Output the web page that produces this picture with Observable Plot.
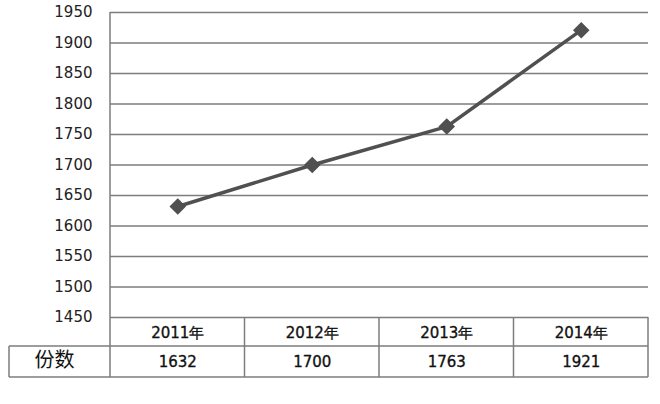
<!DOCTYPE html>
<html>
<head>
<meta charset="utf-8">
<script src="https://cdn.jsdelivr.net/npm/d3@7"></script>
<script src="https://cdn.jsdelivr.net/npm/@observablehq/plot@0.6"></script>
<style>
  html, body { margin: 0; padding: 0; background: #fff; }
</style>
</head>
<body>
<div id="chart"></div>
<script>
const years = [2011, 2012, 2013, 2014];
const yearLabels = ["2011年", "2012年", "2013年", "2014年"];
const counts = [1632, 1700, 1763, 1921];
const yTicks = [1450, 1500, 1550, 1600, 1650, 1700, 1750, 1800, 1850, 1900, 1950];
const rowLabel = "份数";

const rows = years.map((year, i) => ({year, label: yearLabels[i], count: counts[i]}));

const headerH = 29;
const rowH = 31;
const outerLeft = 9;
const gridColor = "#7d7d7d";
const font = "'DejaVu Sans', Verdana, sans-serif";

const tableGrid = (index, scales, values, dimensions) => {
  const {width, marginLeft, marginRight} = dimensions;
  const y0 = scales.y(yTicks[0]);
  const yA = y0 + headerH;
  const yB = yA + rowH;
  const right = width - marginRight;
  const g = d3.create("svg:g")
    .attr("stroke", gridColor)
    .attr("stroke-width", 1.5)
    .attr("fill", "none");
  const line = (x1, y1, x2, y2) => g.append("line")
    .attr("x1", x1).attr("y1", y1).attr("x2", x2).attr("y2", y2);
  line(outerLeft, yA, right, yA);
  line(outerLeft, yB, right, yB);
  line(outerLeft, yA, outerLeft, yB);
  line(marginLeft, scales.y(yTicks[yTicks.length - 1]), marginLeft, yB);
  years.forEach(y => {
    const x = scales.x(y + 0.5);
    line(x, y0, x, yB);
  });
  return g.node();
};

const chart = Plot.plot({
  width: 660,
  height: 404,
  marginTop: 12,
  marginLeft: 110,
  marginRight: 12,
  marginBottom: 87,
  style: {fontFamily: font, fontSize: "15px", color: "#222", background: "#fff"},
  x: {domain: [years[0] - 0.5, years[years.length - 1] + 0.5], axis: null},
  y: {domain: [yTicks[0], yTicks[yTicks.length - 1]], axis: null},
  marks: [
    Plot.ruleY(yTicks, {stroke: gridColor, strokeWidth: 1.5}),
    tableGrid,
    Plot.axisY({ticks: yTicks, tickFormat: d => String(d), tickSize: 0, tickPadding: 18, label: null, fontSize: 15, fontFamily: font, fill: "#222"}),
    Plot.line(rows, {x: "year", y: "count", stroke: "#505050", strokeWidth: 3.5}),
    Plot.dot(rows, {x: "year", y: "count", symbol: "diamond2", r: 6.5, fill: "#505050", stroke: "#505050"}),
    Plot.text(rows, {x: "year", text: "label", frameAnchor: "bottom", lineAnchor: "middle", dy: headerH / 2 + 1, fontSize: 15, fontFamily: font, fill: "#111", stroke: "#111", strokeWidth: 0.35}),
    Plot.text(rows, {x: "year", text: d => String(d.count), frameAnchor: "bottom", lineAnchor: "middle", dy: headerH + rowH / 2, fontSize: 15, fontFamily: font, fill: "#111", stroke: "#111", strokeWidth: 0.35}),
    Plot.text([rowLabel], {frameAnchor: "bottom-left", textAnchor: "middle", lineAnchor: "middle", dx: -56, dy: headerH + rowH / 2 - 1, fontSize: 20, fill: "#111", fontFamily: "Noto Sans CJK SC"})
  ]
});

document.getElementById("chart").appendChild(chart);
</script>
</body>
</html>
